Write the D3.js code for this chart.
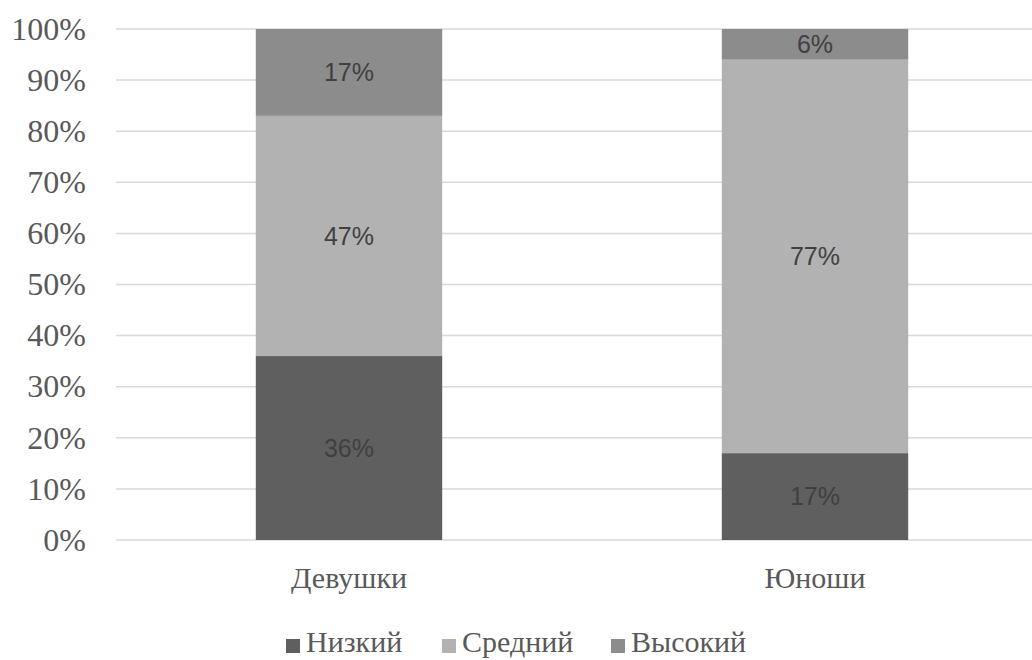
<!DOCTYPE html>
<html>
<head>
<meta charset="utf-8">
<script src="https://cdn.jsdelivr.net/npm/d3@7"></script>
<style>
  body { margin: 0; background: #fff; }
  svg { display: block; }
</style>
</head>
<body>
<div id="chart"></div>
<script>
// data
const categories = ["Девушки", "Юноши"];
const seriesNames = ["Низкий", "Средний", "Высокий"];
const nizkiy = [36, 17];
const sredniy = [47, 77];
const vysokiy = [17, 6];
const yTicks = [0, 10, 20, 30, 40, 50, 60, 70, 80, 90, 100];

const colors = ["#5f5f5f", "#b2b2b2", "#8c8c8c"];

let width = 1032,
    height = 660,
    margin = { top: 29, left: 116, bottom: 120, right: -16 };

let rows = categories.map((c, i) => ({
  cat: c,
  "Низкий": nizkiy[i],
  "Средний": sredniy[i],
  "Высокий": vysokiy[i]
}));

let stacked = d3.stack().keys(seriesNames)(rows);

let svg = d3.select("#chart")
  .append("svg")
    .attr("width", width)
    .attr("height", height)
    .attr("viewBox", [0, 0, width, height].join(" "));

let xScale = d3.scaleBand()
  .domain(categories)
  .range([margin.left, width - margin.right])
  .paddingInner(0.6)
  .paddingOuter(0.3);

let yScale = d3.scaleLinear()
  .domain([0, 100])
  .range([height - margin.bottom, margin.top]);

// gridlines
svg.append("g")
  .selectAll("line")
  .data(yTicks)
  .enter()
  .append("line")
    .attr("x1", margin.left)
    .attr("x2", width - margin.right)
    .attr("y1", d => yScale(d))
    .attr("y2", d => yScale(d))
    .attr("stroke", "#d9d9d9")
    .attr("stroke-width", 1.5);

// y axis labels
let yAxis = d3.axisLeft(yScale)
  .tickValues(yTicks)
  .tickFormat(d => d + "%")
  .tickSize(0)
  .tickPadding(30);

svg.append("g")
  .attr("transform", "translate(" + margin.left + ",0)")
  .call(yAxis)
  .call(g => g.select(".domain").remove())
  .selectAll("text")
    .attr("font-family", "'Liberation Serif', 'Times New Roman', serif")
    .attr("font-size", 32)
    .attr("fill", "#595959");

// bars
let layers = svg.append("g")
  .selectAll("g")
  .data(stacked)
  .enter()
  .append("g")
    .attr("fill", (d, i) => colors[i]);

layers.selectAll("rect")
  .data(d => d)
  .enter()
  .append("rect")
    .attr("x", d => xScale(d.data.cat))
    .attr("width", xScale.bandwidth())
    .attr("y", d => yScale(d[1]))
    .attr("height", d => yScale(d[0]) - yScale(d[1]));

// data labels
layers.selectAll("text")
  .data(d => d)
  .enter()
  .append("text")
    .attr("x", d => xScale(d.data.cat) + xScale.bandwidth() / 2)
    .attr("y", d => (yScale(d[0]) + yScale(d[1])) / 2)
    .attr("dy", "0.35em")
    .attr("text-anchor", "middle")
    .attr("font-family", "'Liberation Sans', Arial, sans-serif")
    .attr("font-size", 25)
    .attr("fill", "#404040")
    .text(d => (d[1] - d[0]) + "%");

// x axis labels
let xAxis = d3.axisBottom(xScale).tickSize(0).tickPadding(0);

svg.append("g")
  .attr("transform", "translate(0," + (height - margin.bottom) + ")")
  .call(xAxis)
  .call(g => g.select(".domain").remove())
  .selectAll("text")
    .attr("dy", null)
    .attr("y", 48)
    .attr("font-family", "'Liberation Serif', 'Times New Roman', serif")
    .attr("font-size", 30)
    .attr("fill", "#595959");

// legend
let legendX = [286, 442, 611];
let legend = svg.append("g")
  .selectAll("g")
  .data(seriesNames)
  .enter()
  .append("g")
    .attr("transform", (d, i) => "translate(" + legendX[i] + ",639)");

legend.append("rect")
  .attr("width", 14)
  .attr("height", 14)
  .attr("fill", (d, i) => colors[i]);

legend.append("text")
  .attr("x", 20)
  .attr("y", 13)
  .attr("font-family", "'Liberation Serif', 'Times New Roman', serif")
  .attr("font-size", 30)
  .attr("fill", "#595959")
  .text(d => d);
</script>
</body>
</html>
